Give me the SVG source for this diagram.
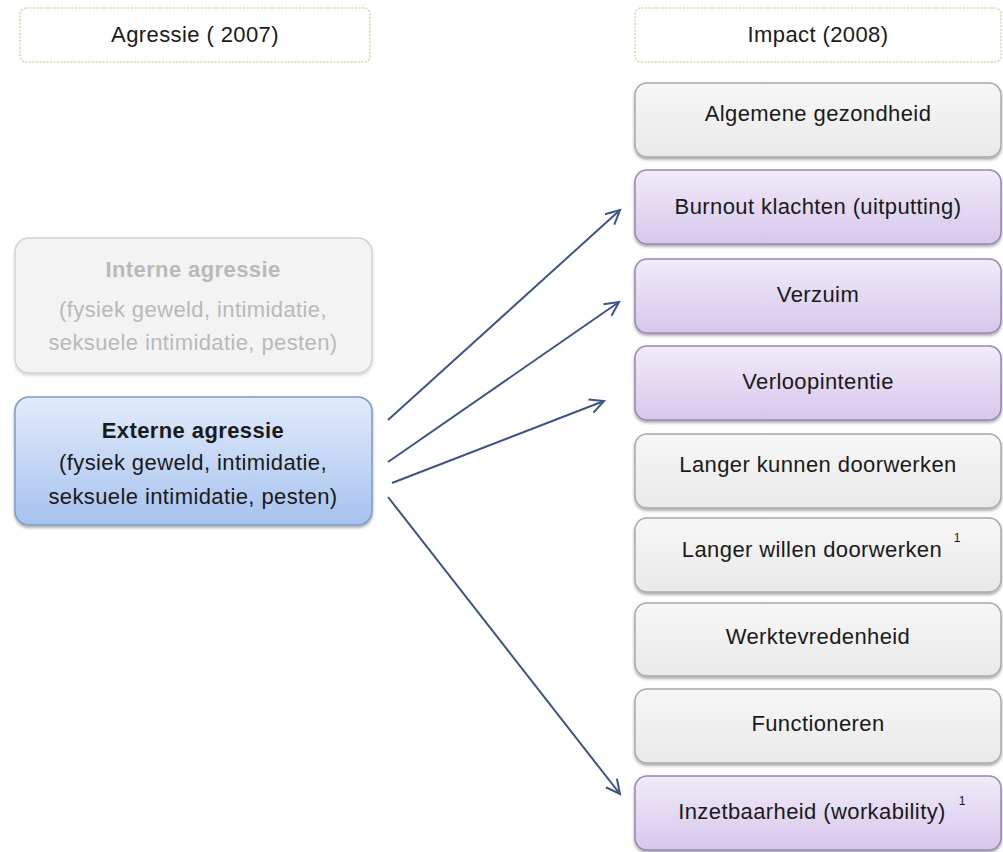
<svg xmlns="http://www.w3.org/2000/svg" width="1003" height="852" viewBox="0 0 1003 852">
<defs>
<style>
text{font-family:"Liberation Sans",Arial,sans-serif;font-size:22px;letter-spacing:0.4px;text-anchor:middle;fill:#1a1a1a}
.hdr{fill:#ffffff;stroke:#d6d9a8;stroke-width:1.5;stroke-dasharray:2 1.5}
.gray{fill:url(#gGray);stroke:#a9a9a9;stroke-width:1.5;filter:url(#sh)}
.purp{fill:url(#gPurp);stroke:#9787ad;stroke-width:1.5;filter:url(#sh)}
.blue{fill:url(#gBlue);stroke:#7d9bc9;stroke-width:1.5;filter:url(#sh)}
.faint{fill:#f3f3f3;stroke:#d2d2d2;stroke-width:1.5;filter:url(#sh2)}
.ftxt{fill:#b9b9b9}
.sup{font-size:12px;letter-spacing:0}
.conn line{stroke:#3e5488;stroke-width:2;marker-end:url(#arr)}
</style>
<linearGradient id="gGray" x1="0" y1="0" x2="0" y2="1"><stop offset="0" stop-color="#f7f7f7"/><stop offset="1" stop-color="#e9e9e9"/></linearGradient>
<linearGradient id="gPurp" x1="0" y1="0" x2="0" y2="1"><stop offset="0" stop-color="#f1ebf9"/><stop offset="1" stop-color="#d6c7ec"/></linearGradient>
<linearGradient id="gBlue" x1="0" y1="0" x2="0" y2="1"><stop offset="0" stop-color="#e2ebfb"/><stop offset="1" stop-color="#a7c2ef"/></linearGradient>
<filter id="sh" x="-5%" y="-10%" width="110%" height="125%"><feDropShadow dx="0" dy="2" stdDeviation="1.5" flood-color="#000" flood-opacity="0.35"/></filter>
<filter id="sh2" x="-5%" y="-10%" width="110%" height="125%"><feDropShadow dx="0" dy="2" stdDeviation="1.5" flood-color="#000" flood-opacity="0.15"/></filter>
<marker id="arr" markerUnits="userSpaceOnUse" markerWidth="20" markerHeight="20" refX="16" refY="8" orient="auto" viewBox="0 0 20 16">
<polyline points="2,1 16,8 2,15" fill="none" stroke="#3e5488" stroke-width="2"/>
</marker>
</defs>
<rect width="1003" height="852" fill="#ffffff"/>

<g id="hdr-agressie"><rect class="hdr" x="20" y="8" width="350" height="54" rx="6"/><text x="195" y="42">Agressie ( 2007)</text></g>
<g id="hdr-impact"><rect class="hdr" x="635" y="8" width="366" height="54" rx="6"/><text x="818" y="42">Impact (2008)</text></g>

<g id="interne"><rect class="faint" x="15" y="238" width="357" height="135" rx="14"/>
<text class="ftxt" x="193" y="277" font-weight="bold">Interne agressie</text>
<text class="ftxt" x="193" y="317">(fysiek geweld, intimidatie,</text>
<text class="ftxt" x="193" y="350">seksuele intimidatie, pesten)</text></g>

<g id="externe"><rect class="blue" x="15" y="397" width="357" height="128" rx="14"/>
<text x="193" y="438" font-weight="bold">Externe agressie</text>
<text x="193" y="470">(fysiek geweld, intimidatie,</text>
<text x="193" y="504">seksuele intimidatie, pesten)</text></g>

<g id="algemene"><rect class="gray" x="635" y="83" width="366" height="74" rx="12"/><text x="818" y="121">Algemene gezondheid</text></g>
<g id="burnout"><rect class="purp" x="635" y="170" width="366" height="74" rx="12"/><text x="818" y="214">Burnout klachten (uitputting)</text></g>
<g id="verzuim"><rect class="purp" x="635" y="259" width="366" height="74" rx="12"/><text x="818" y="302">Verzuim</text></g>
<g id="verloop"><rect class="purp" x="635" y="346" width="366" height="74" rx="12"/><text x="818" y="389">Verloopintentie</text></g>
<g id="kunnen"><rect class="gray" x="635" y="434" width="366" height="74" rx="12"/><text x="818" y="472">Langer kunnen doorwerken</text></g>
<g id="willen"><rect class="gray" x="635" y="518" width="366" height="74" rx="12"/><text x="812" y="557">Langer willen doorwerken</text><text class="sup" x="957" y="542">1</text></g>
<g id="werktevreden"><rect class="gray" x="635" y="603" width="366" height="73" rx="12"/><text x="818" y="644">Werktevredenheid</text></g>
<g id="functioneren"><rect class="gray" x="635" y="689" width="366" height="74" rx="12"/><text x="818" y="731">Functioneren</text></g>
<g id="inzet"><rect class="purp" x="635" y="776" width="366" height="74" rx="12"/><text x="812" y="819">Inzetbaarheid (workability)</text><text class="sup" x="962" y="805">1</text></g>

<g id="connectors" class="conn">
<line x1="388" y1="420" x2="620" y2="210"/>
<line x1="388" y1="462" x2="619" y2="302"/>
<line x1="392" y1="483" x2="604" y2="401"/>
<line x1="388" y1="497" x2="620" y2="794"/>
</g>
</svg>
